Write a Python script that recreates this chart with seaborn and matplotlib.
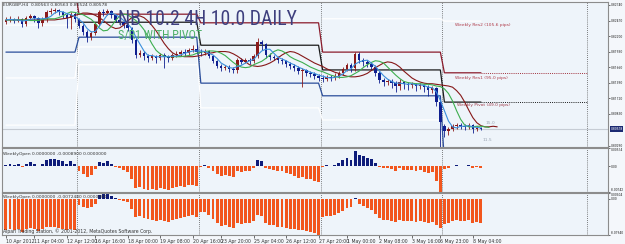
import numpy as np
import matplotlib
matplotlib.use("Agg")
import matplotlib.pyplot as plt
import matplotlib.transforms as mtransforms
from matplotlib import font_manager as fm
import seaborn as sns

# ---------------- data: EURGBP H4, prices stored as pips above 0.80000 ----------------
BASE, PIP = 0.80000, 0.0001

open_pips = [244, 248, 250, 246, 250, 241, 251, 255, 251, 243, 250, 262, 264, 265, 262, 257, 251, 258,
             250, 237, 227, 218, 225, 241, 262, 260, 264, 257, 248, 244, 239, 234, 213, 187, 190, 185, 182, 185, 182, 187, 184, 182, 187, 189, 192, 190, 196, 197,
             192, 190, 194, 185, 177, 168, 164, 166, 163, 161, 178, 175, 178, 177, 185, 210, 206, 187, 184, 182, 178, 177, 171, 168, 164, 159, 161, 156, 154, 150,
             147, 145, 149, 147, 150, 156, 163, 170, 164, 189, 178, 175, 171, 166, 156, 144, 140, 142, 138, 133, 140, 137, 135, 137, 133, 135, 131, 126, 130, 105,
             63, 55, 58, 63, 65, 63, 62, 65, 58, 60]
high_pips = [253, 255, 251, 255, 251, 255, 258, 257, 253, 253, 265, 269, 269, 267, 264, 260, 262, 262,
             251, 241, 230, 229, 244, 265, 267, 267, 265, 258, 251, 248, 243, 236, 217, 196, 194, 189, 189, 187, 190, 190, 187, 190, 194, 196, 197, 199, 204, 204,
             197, 197, 196, 187, 178, 171, 170, 170, 166, 182, 182, 182, 182, 189, 217, 213, 208, 190, 187, 185, 182, 178, 175, 171, 168, 164, 163, 159, 157, 154,
             152, 152, 152, 156, 159, 166, 173, 173, 192, 192, 182, 178, 175, 170, 159, 147, 145, 145, 142, 145, 142, 140, 140, 138, 138, 137, 135, 133, 131, 109,
             67, 62, 67, 69, 69, 67, 69, 67, 63, 62]
low_pips = [241, 244, 243, 244, 236, 237, 248, 244, 234, 237, 244, 258, 260, 257, 251, 234, 232, 244,
            234, 222, 210, 213, 222, 237, 255, 257, 251, 244, 239, 234, 229, 208, 182, 184, 178, 175, 178, 173, 178, 164, 175, 178, 184, 185, 185, 187, 192, 189,
            185, 187, 182, 173, 164, 159, 161, 157, 156, 156, 171, 173, 171, 173, 182, 196, 182, 178, 178, 173, 171, 166, 163, 159, 154, 131, 150, 149, 145, 142,
            140, 142, 142, 144, 147, 152, 159, 157, 159, 173, 168, 166, 161, 150, 138, 133, 135, 130, 123, 126, 128, 126, 130, 124, 128, 123, 116, 121, 98, 27,
            44, 48, 55, 58, 58, 57, 58, 51, 55, 57]
close_pips = [248, 250, 246, 250, 241, 251, 255, 251, 243, 250, 262, 264, 265, 262, 257, 251, 258, 250,
              237, 227, 218, 225, 241, 262, 260, 264, 257, 248, 244, 239, 234, 213, 187, 190, 185, 182, 185, 182, 187, 184, 182, 187, 189, 192, 190, 196, 197, 192,
              190, 194, 185, 177, 168, 164, 166, 163, 161, 178, 175, 178, 177, 185, 210, 206, 187, 184, 182, 178, 177, 171, 168, 164, 159, 161, 156, 154, 150, 147,
              145, 149, 147, 150, 156, 163, 170, 164, 189, 178, 175, 171, 166, 156, 144, 140, 142, 138, 133, 140, 137, 135, 137, 133, 135, 131, 126, 130, 105, 70,
              55, 58, 63, 65, 63, 62, 65, 58, 60, 58]

ma_blue_pips = [248, 249, 248, 248, 246, 247, 249, 250, 250, 250, 251, 254, 260, 263, 262, 259, 257, 254,
                249, 243, 233, 227, 228, 237, 247, 257, 260, 257, 253, 247, 241, 233, 218, 206, 194, 186, 186, 184, 184, 184, 184, 185, 185, 187, 190, 192, 194, 194,
                194, 193, 190, 187, 181, 173, 169, 165, 164, 167, 169, 173, 177, 179, 187, 194, 197, 197, 190, 183, 180, 177, 173, 170, 166, 163, 160, 157, 155, 152,
                150, 148, 147, 148, 150, 154, 160, 163, 171, 175, 177, 178, 173, 167, 159, 151, 145, 141, 138, 138, 137, 136, 137, 135, 135, 134, 131, 130, 123, 108,
                90, 72, 62, 60, 63, 63, 64, 62, 61, 60]
ma_green_pips = [248, 248, 248, 248, 248, 248, 247, 247, 247, 249, 250, 250, 250, 252, 255, 259, 262, 261,
                 259, 257, 253, 249, 242, 234, 229, 230, 237, 247, 255, 258, 257, 252, 247, 240, 231, 219, 206, 195, 189, 185, 184, 184, 184, 184, 185, 186, 187, 190,
                 192, 193, 194, 194, 193, 190, 186, 180, 174, 169, 166, 165, 166, 170, 173, 176, 181, 187, 193, 196, 194, 190, 184, 180, 177, 174, 170, 166, 163, 160,
                 158, 155, 152, 150, 148, 148, 149, 151, 155, 159, 165, 170, 174, 177, 176, 173, 166, 159, 152, 146, 141, 139, 138, 137, 137, 136, 136, 135, 133, 132,
                 128, 120, 107, 90, 75, 65, 62, 62, 63, 63, 62, 61]
ma_red_pips = [248, 248, 248, 248, 248, 248, 248, 248, 248, 248, 248, 248, 248, 249, 250, 251, 253, 256,
               258, 260, 260, 259, 256, 252, 247, 241, 236, 233, 234, 239, 246, 252, 255, 255, 252, 246, 238, 229, 218, 207, 198, 191, 187, 185, 184, 184, 184, 185,
               186, 188, 190, 191, 193, 193, 193, 192, 189, 185, 180, 175, 170, 168, 167, 168, 170, 173, 177, 182, 187, 191, 193, 192, 189, 185, 181, 177, 173, 170,
               167, 163, 160, 157, 155, 152, 150, 149, 149, 150, 152, 155, 160, 165, 169, 173, 175, 174, 171, 166, 159, 153, 147, 143, 140, 138, 137, 137, 136, 135,
               134, 133, 131, 125, 117, 105, 91, 78, 69, 64, 62, 62, 63, 62]

# weekly pivot levels (pips above 0.8), one value per week; nan = not drawn
week_len = [18, 30, 30, 30, 10]
res1_week = [300, 258, 243, 192, 156]
pivot_week = [np.nan, 244, 204, 161, 105]
sup1_week = [192, 218, 138, 116, 0]
res2_week = [239, np.nan, np.nan, 250, 246]
sup2_week = [147, 201, 95, 74, np.nan]
sup3_week = [65, 170, np.nan, np.nan, np.nan]

# WeeklyOpen histograms (pips)
hist1_pips = [4, 6, 2, 6, -3, 7, 11, 7, -1, 6, 18, 20, 21, 18, 13, 7, 14, 6,
              -13, -23, -32, -25, -9, 12, 10, 14, 7, -2, -6, -11, -16, -37, -63, -60, -65, -68, -65, -68, -63, -66, -68, -63, -61, -58, -60, -54, -53, -58,
              -2, 2, -7, -15, -24, -28, -26, -29, -31, -14, -17, -14, -15, -7, 18, 14, -5, -8, -10, -14, -15, -21, -24, -28, -33, -31, -36, -38, -42, -45,
              -2, 2, 0, 3, 9, 16, 23, 17, 42, 31, 28, 24, 19, 9, -3, -7, -5, -9, -14, -7, -10, -12, -10, -14, -12, -16, -21, -17, -42, -74,
              -8, -5, 0, 2, 0, -1, 2, -5, -3, -5]
hist2_pips = [-166, -161, -166, -161, -177, -161, -155, -161, -171, -161, -150, -150, -150, -155, -161, -166, -161, -166,
              -32, -43, -48, -43, -27, 21, 27, 27, 16, 5, -5, -11, -16, -54, -96, -91, -102, -107, -112, -118, -112, -118, -123, -112, -107, -102, -96, -91, -86, -96,
              -70, -70, -86, -107, -128, -144, -139, -150, -155, -128, -134, -128, -128, -118, -86, -91, -128, -139, -139, -150, -150, -155, -161, -161, -166, -166, -171, -177, -182, -194,
              -96, -91, -91, -86, -75, -64, -48, -43, 3, -27, -37, -48, -59, -80, -102, -112, -112, -118, -123, -112, -118, -118, -118, -123, -118, -123, -128, -123, -139, -155,
              -134, -128, -118, -112, -118, -118, -112, -128, -123, -128]

price_ticks = [0.82740, 0.82470, 0.82200, 0.81930, 0.81660, 0.81390, 0.81120, 0.80850, 0.80290]
current_price = 0.80578
hist1_range = (-0.00742, 0.00514)
hist2_range = (-0.01940, 0.00304)
time_tick_bars = [0, 7, 15, 22, 30, 38, 46, 53, 61, 69, 77, 84, 92, 100, 107, 115]
time_tick_labels = ["10 Apr 2012", "11 Apr 04:00", "12 Apr 12:00", "16 Apr 16:00", "18 Apr 00:00",
                    "19 Apr 08:00", "20 Apr 16:00", "23 Apr 20:00", "25 Apr 04:00", "26 Apr 12:00",
                    "27 Apr 20:00", "1 May 00:00", "2 May 08:00", "3 May 16:00", "6 May 23:00", "8 May 04:00"]
future_marker_bar = 143

# ---------------- figure ----------------
def to_price(a):
    return BASE + np.asarray(a, dtype=float) * PIP

n = len(close_pips)
idx = np.arange(n)
O, Hh, Lo, C = map(to_price, (open_pips, high_pips, low_pips, close_pips))

W, H = 625, 244
BG_AX = '#EEF4FA'
BG_FIG = '#F4F7FB'
sns.set_theme(style='white')
plt.rcParams['font.family'] = ['DejaVu Sans']


def pick_condensed():
    for fam in ['Liberation Sans Narrow', 'Roboto Condensed', 'Open Sans Condensed', 'DejaVu Sans Condensed']:
        try:
            fm.findfont(fm.FontProperties(family=fam), fallback_to_default=False)
            return dict(family=fam)
        except Exception:
            pass
    try:
        p = fm.findfont(fm.FontProperties(family='DejaVu Sans', stretch='condensed'))
        if 'Condensed' in p:
            return dict(family='DejaVu Sans', stretch='condensed')
    except Exception:
        pass
    return dict(family='Liberation Sans')


fprops = pick_condensed()

fig = plt.figure(figsize=(W / 100, H / 100), dpi=100, facecolor=BG_FIG)
L_PX, R_PX = 2, 608


def add_ax(top, bottom):
    return fig.add_axes([L_PX / W, 1 - bottom / H, (R_PX - L_PX) / W, (bottom - top) / H])


axm = add_ax(2, 147)
ax1 = add_ax(148, 192)
ax2 = add_ax(193, 235)
XMIN = -0.97
XMAX = XMIN + (R_PX - L_PX) / 4.06
for ax in (axm, ax1, ax2):
    ax.set_facecolor(BG_AX)
    ax.set_xlim(XMIN, XMAX)
    for s in ax.spines.values():
        s.set_color('#8C8C8C')
        s.set_linewidth(0.8)
    ax.yaxis.tick_right()
    ax.tick_params(axis='y', right=True, left=False, length=1.5, width=0.5, pad=0.6,
                   labelsize=3.3, colors='#333333')
    ax.tick_params(axis='x', bottom=False, labelbottom=False)
    ax.grid(False)

axm.set_ylim(BASE + 26.9 * PIP, BASE + 279.2 * PIP)

# week separators (period separators) + future marker line
bounds = list(np.cumsum(week_len)[:-1] - 0.5) + [future_marker_bar]
for ax in (axm, ax1, ax2):
    for b in bounds:
        ax.axvline(b, color='#555555', lw=0.6, ls=(0, (1, 1.5)), zorder=1)

# current price line
axm.axhline(current_price, color='#C6CCD4', lw=0.8, zorder=1)


def per_bar(vals):
    return np.concatenate([np.full(k, v, dtype=float) for v, k in zip(vals, week_len)])


for vals, col in [(sup3_week, 'white'), (sup2_week, 'white'), (res2_week, 'white'),
                  (sup1_week, '#2B4E9B'), (pivot_week, '#1A1A1A'), (res1_week, '#8B1C2C')]:
    axm.plot(idx, to_price(per_bar(vals)), color=col, lw=0.9, zorder=2, solid_joinstyle='miter')

# dotted extensions of the current week's levels
for v, col in [(res1_week[-1], '#A0303C'), (pivot_week[-1], '#1A1A1A')]:
    axm.plot([n - 1, future_marker_bar], to_price([v, v]), color=col, lw=0.7, ls=(0, (1, 1.2)), zorder=2)

# candles
up = C >= O
ccol = np.where(up, '#8B1A1A', '#0F1F8F')
axm.vlines(idx, Lo, Hh, colors=ccol, lw=0.6, zorder=3)
axm.bar(idx, np.maximum(np.abs(C - O), 0.6 * PIP), bottom=np.minimum(O, C), width=0.62,
        color=ccol, linewidth=0, zorder=3)

# moving averages
for vals, col in [(ma_red_pips, '#861818'), (ma_green_pips, '#3DAE4F'), (ma_blue_pips, '#3A8EDB')]:
    sns.lineplot(x=np.arange(len(vals)), y=to_price(vals), ax=axm, color=col, linewidth=0.8,
                 estimator=None, sort=False, legend=False, zorder=4)

axm.set_xlim(XMIN, XMAX)
axm.set_ylim(BASE + 26.9 * PIP, BASE + 279.2 * PIP)
axm.set_xlabel('')
axm.set_ylabel('')
axm.set_yticks(price_ticks)
axm.set_yticklabels([f'{v:.5f}' for v in price_ticks])

# highlighted current price label
trans = mtransforms.blended_transform_factory(axm.transAxes, axm.transData)
hl = axm.text(1.004, current_price, f'{current_price:.5f}', transform=trans, ha='left', va='center',
              fontsize=3.3, color='white', clip_on=False, zorder=10,
              bbox=dict(boxstyle='square,pad=0.2', fc='#1C2A72', ec='none'), **fprops)

# level labels for the current week
lab_x = 110.6
axm.text(lab_x, to_price(239), 'Weekly Res2 (105.6 pips)', fontsize=3.2, color='#B03A48', va='center', zorder=6)
axm.text(lab_x, to_price(147), 'Weekly Res1 (95.0 pips)', fontsize=3.2, color='#B03A48', va='center', zorder=6)
axm.text(lab_x + 0.5, to_price(100), 'Weekly Pivot (49.0 pips)', fontsize=3.2, color='#A03A48', va='center', zorder=6)
axm.text(118, to_price(69), '15.0', fontsize=3.2, color='#9AA4B2', va='center', zorder=6)
axm.text(117.5, to_price(39), '11.5', fontsize=3.2, color='#9AA4B2', va='center', zorder=6)

# histograms
for ax, vals, rng in [(ax1, hist1_pips, hist1_range), (ax2, hist2_pips, hist2_range)]:
    v = np.asarray(vals, dtype=float) * PIP
    cols = np.where(v > 0, '#0E1C7A', '#F2561D')
    ax.bar(idx, v, width=0.72, color=cols, linewidth=0, zorder=2)
    ax.set_ylim(*rng)
    ax.set_yticks([rng[1], 0.0, rng[0]])
    ax.set_yticklabels([f'{rng[1]:.5f}', '0.00', f'{rng[0]:.5f}'])
    labs = ax.get_yticklabels()
    labs[0].set_va('top')
    labs[-1].set_va('bottom')
    ax.set_xlim(XMIN, XMAX)

ax2.set_xticks(time_tick_bars)
ax2.set_xticklabels(time_tick_labels)
ax2.tick_params(axis='x', bottom=True, labelbottom=True, length=2, width=0.5, pad=1,
                labelsize=3.3, colors='#333333', direction='out')
for lab in ax2.get_xticklabels():
    lab.set_ha('left')

# small texts
fig.text(3 / W, 1 - 5 / H, 'EURGBP,H4  0.80563 0.80563 0.80524 0.80578', fontsize=3.2, color='#333333', va='center')
fig.text(3 / W, 1 - 154 / H, 'WeeklyOpen 0.0000000 -0.0008900 0.0000000', fontsize=3.2, color='#333333', va='center')
fig.text(3 / W, 1 - 197 / H, 'WeeklyOpen 0.0000000 -0.0072480 0.0000000', fontsize=3.2, color='#333333', va='center')
fig.text(3 / W, 1 - 231 / H, 'Alpari Trading Station, \u00a9 2001-2012, MetaQuotes Software Corp.', fontsize=3.3,
         color='#333333', va='center')

# big titles
t1 = fig.text(118 / W, 1 - 25 / H, 'NB 10.2 4H 10.0 DAILY', fontsize=15, color='#3E3F7E',
              va='baseline', ha='left', zorder=20, **fprops)
t2 = fig.text(118 / W, 1 - 38.5 / H, 'S/R1 WITH PIVOT', fontsize=8, color='#4FB06A',
              va='baseline', ha='left', zorder=20, **fprops)

# ---- fit texts to the reference's extents ----
fig.canvas.draw()
renderer = fig.canvas.get_renderer()


def fit_width(t, width_px):
    bb = t.get_window_extent(renderer=renderer)
    t.set_fontsize(t.get_fontsize() * width_px / bb.width)


fit_width(t1, 179)
fit_width(t2, 84)

# right-axis labels: use the narrow family and shrink to stay inside the picture
right_limit = W - 0.8
for ax in (axm, ax1, ax2):
    labs = ax.get_yticklabels()
    for lab in labs:
        lab.set_fontfamily(fprops['family'])
        if 'stretch' in fprops:
            lab.set_fontstretch(fprops['stretch'])
fig.canvas.draw()
scale = 1.0
for ax in (axm, ax1, ax2):
    for lab in ax.get_yticklabels():
        bb = lab.get_window_extent(renderer=renderer)
        if bb.width > 0:
            scale = min(scale, (right_limit - bb.x0) / bb.width)
bbh = hl.get_window_extent(renderer=renderer)
scale = min(scale, (right_limit - bbh.x0) / bbh.width)
if scale < 1.0:
    for ax in (axm, ax1, ax2):
        ax.tick_params(axis='y', labelsize=3.3 * scale)
        for lab in ax.get_yticklabels():
            lab.set_fontfamily(fprops['family'])
    hl.set_fontsize(3.3 * scale)

fig.savefig('out.png', dpi=100, facecolor=BG_FIG)
